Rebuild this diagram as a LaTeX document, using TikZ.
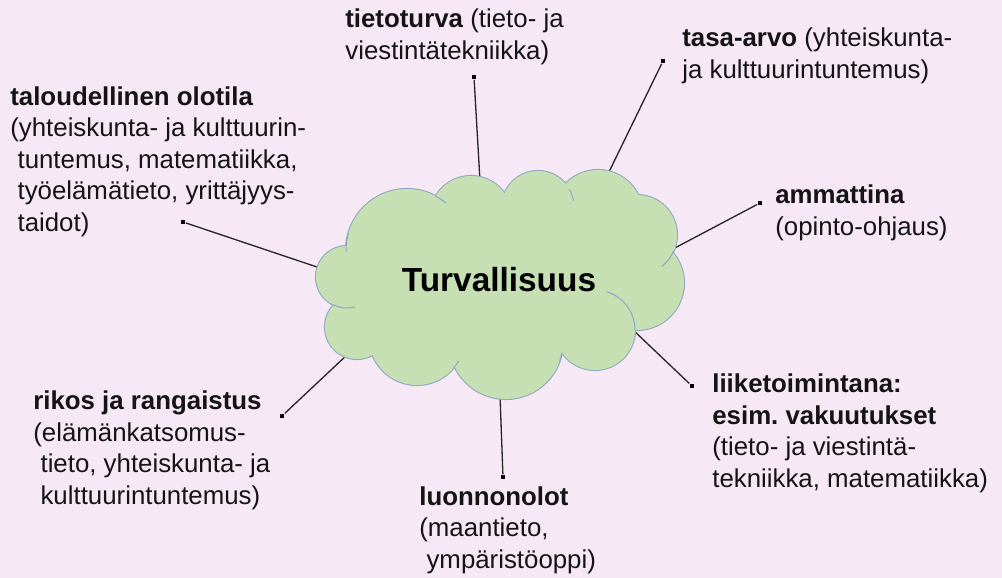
\documentclass[tikz,border=0pt]{standalone}
\usepackage{fontspec}
\setmainfont{Liberation Sans}
\frenchspacing
\definecolor{bgpink}{HTML}{F6E9F5}
\definecolor{cloudfill}{HTML}{C6E0B4}
\definecolor{cloudline}{HTML}{8EA9C1}
\newcommand\ind{\hspace*{.28em}}
\tikzset{
  lbl/.style={anchor=base west, align=left, inner sep=0pt, text=black!92,
    font=\fontsize{14.7pt}{17.9pt}\selectfont},
  pin/.style={rectangle, fill=black, inner sep=0pt, minimum size=2.8pt},
  link/.style={line width=0.75pt, black!85}
}

\begin{document}
\begin{tikzpicture}[x=0.02cm,y=-0.02cm]
  \fill[bgpink] (0,0) rectangle (1002,578);
  \useasboundingbox (0,0) rectangle (1002,578);
  % labels (placed at the baseline of their last line)
  \node[lbl] (tieto) at (345,59) {\textbf{tietoturva} (tieto- ja\\viestintätekniikka)};
  \node[lbl] (tasa) at (682,78) {\textbf{tasa-arvo} (yhteiskunta-\\ja kulttuurintuntemus)};
  \node[lbl] (ammatti) at (775,235) {\textbf{ammattina}\\(opinto-ohjaus)};
  \node[lbl] (liike) at (712,487) {\textbf{liiketoimintana:}\\\textbf{esim.\ vakuutukset}\\(tieto- ja viestintä-\\tekniikka, matematiikka)};
  \node[lbl] (luonto) at (419,568) {\textbf{luonnonolot}\\(maantieto,\\\ind ympäristöoppi)};
  \node[lbl] (rikos) at (33,504) {\textbf{rikos ja rangaistus}\\(elämänkatsomus-\\\ind tieto, yhteiskunta- ja\\\ind kulttuurintuntemus)};
  \node[lbl] (talous) at (10,231) {\textbf{taloudellinen olotila}\\(yhteiskunta- ja kulttuurin-\\\ind tuntemus, matematiikka,\\\ind työelämätieto, yrittäjyys-\\\ind taidot)};
  % pins
  \node[pin] (d1) at (474,77) {};
  \node[pin] (d2) at (663,61) {};
  \node[pin] (d3) at (760,203) {};
  \node[pin] (d4) at (692,386) {};
  \node[pin] (d5) at (503,477) {};
  \node[pin] (d6) at (282,416) {};
  \node[pin] (d7) at (183,222) {};
  % ends under the cloud
  \coordinate (e1) at (480,181);
  \coordinate (e2) at (608,174);
  \coordinate (e3) at (671,250);
  \coordinate (e4) at (632,329);
  \coordinate (e5) at (500,395);
  \coordinate (e6) at (348,354);
  \coordinate (e7) at (320,268);
  \foreach \i in {1,...,7}
    \draw[link] (d\i) -- (e\i);
  % cloud
  \foreach \cx/\cy/\r in {347/277/31, 407/250/61, 471/217/41, 538/207/36, 598/215/45, 637/235/40,
      637/283/47, 595/330/40, 506/342/57, 417/337/48, 357/327/32}
    \draw[cloudline, line width=1.2pt] (\cx,\cy) circle (\r);
  \fill[cloudfill] (500,285) ellipse (130 and 75);
  \foreach \cx/\cy/\r in {347/277/31, 407/250/61, 471/217/41, 538/207/36, 598/215/45, 637/235/40,
      637/283/47, 595/330/40, 506/342/57, 417/337/48, 357/327/32}
    \fill[cloudfill] (\cx,\cy) circle (\r);
  \foreach \cx/\cy/\r/\a/\b in {347/277/31/117/75, 407/250/61/196/178, 407/250/61/-62/-50,
      538/207/36/-30/-10, 637/235/40/52/24, 595/330/40/-73/0, 506/342/57/21/11, 417/337/48/40/30}
    \draw[cloudline, line width=0.6pt] ([shift={(\a:\r)}]\cx,\cy) arc[start angle=\a, end angle=\b, radius=\r];
  \node[font=\fontsize{19pt}{22pt}\selectfont\bfseries] (turv) at (499,280) {Turvallisuus};
\end{tikzpicture}
\end{document}
